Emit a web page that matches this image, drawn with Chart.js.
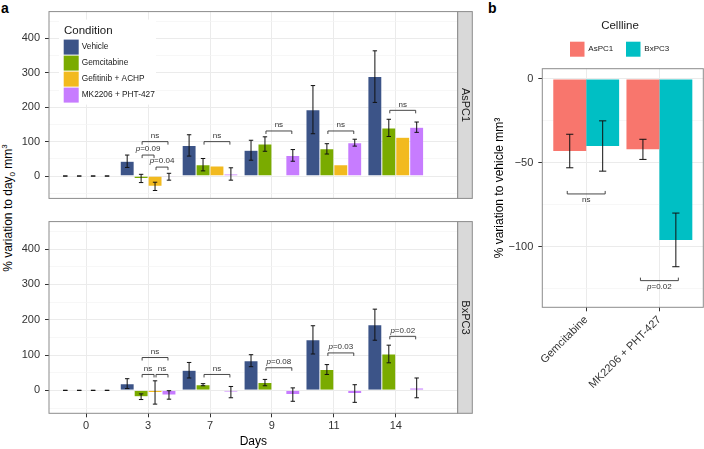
<!DOCTYPE html>
<html>
<head>
<meta charset="utf-8">
<script src="https://cdn.jsdelivr.net/npm/chart.js@4.4.1/dist/chart.umd.min.js"></script>
<style>
  body { margin: 0; width: 704px; height: 449px; position: relative; background: #fff; overflow: hidden;
         font-family: "Liberation Sans", Arial, sans-serif; }
  canvas { position: absolute; }
  .letter { position: absolute; font-weight: bold; font-size: 14px; color: #000; line-height: 1; }
  .ytitle { position: absolute; white-space: nowrap; font-size: 12px; line-height: 1; color: #000;
            transform: translate(-50%, -50%) rotate(-90deg); }
  .ytitle sub, .ytitle sup { font-size: 8px; line-height: 0; }
</style>
</head>
<body>
<div class="letter" style="left:1px;top:1px">a</div>
<div class="letter" style="left:488px;top:1px">b</div>
<div class="ytitle" style="left:8px;top:208px">% variation to day<sub>0</sub> mm<sup>3</sup></div>
<canvas id="facetTop" width="474" height="210" style="left:0;top:0"></canvas>
<canvas id="facetBottom" width="474" height="239" style="left:0;top:210px"></canvas>
<canvas id="panelB" width="232" height="449" style="left:472px;top:0"></canvas>
<script>
const FONT = '"Liberation Sans", Arial, sans-serif';

// panel a
const days = ['0', '3', '7', '9', '11', '14'];
const conditions = ['Vehicle', 'Gemcitabine', 'Gefitinib + ACHP', 'MK2206 + PHT-427'];
const conditionColors = ['#3C5488', '#7AAB00', '#F2BA1F', '#C77CFF'];

const aspc1Vehicle = [0, 43, 89, 75, 193, 289];
const aspc1VehicleErr = [0, 18, 31, 29, 70, 75];
const aspc1Gem = [0, -7, 33, 93, 79, 140];
const aspc1GemErr = [0, 12, 18, 21, 15, 25];
const aspc1Gef = [0, -30, 29, 1, 33, 113];
const aspc1GefErr = [0, 12, null, null, null, null];
const aspc1Mk = [0, -2, 6, 60, 97, 142];
const aspc1MkErr = [0, 10, 18, 17, 10, 15];

const bxpc3Vehicle = [0, 19, 57, 84, 143, 186];
const bxpc3VehicleErr = [0, 14, 22, 17, 40, 44];
const bxpc3Gem = [0, -18, 16, 22, 59, 103];
const bxpc3GemErr = [0, 8, 3, 9, 14, 25];
const bxpc3Gef = [0, -6, null, null, null, null];
const bxpc3GefErr = [0, 33, null, null, null, null];
const bxpc3Mk = [0, -13, -5, -12, -9, 7];
const bxpc3MkErr = [0, 12, 16, 19, 25, 28];

// [day index, from condition, to condition, height, label]
const aspc1Brackets = [
  [1, 1, 3, 100, 'ns'], [1, 1, 2, 61, 'p=0.09'], [1, 2, 3, 26, 'p=0.04'],
  [2, 1, 3, 100, 'ns'], [3, 1, 3, 131, 'ns'], [4, 1, 3, 131, 'ns'], [5, 1, 3, 191, 'ns']
];
const bxpc3Brackets = [
  [1, 1, 3, 93, 'ns'], [1, 1, 2, 45, 'ns'], [1, 2, 3, 45, 'ns'],
  [2, 1, 3, 45, 'ns'], [3, 1, 3, 64, 'p=0.08'], [4, 1, 3, 106, 'p=0.03'], [5, 1, 3, 153, 'p=0.02']
];
const facetTicks = [-50, 0, 50, 100, 150, 200, 250, 300, 350, 400, 450];

// panel b
const treatments = ['Gemcitabine', 'MK2206 + PHT-427'];
const cellLines = ['AsPC1', 'BxPC3'];
const cellColors = ['#F8766D', '#00BFC4'];
const aspc1Var = [-43, -42];
const aspc1VarErr = [10, 6];
const bxpc3Var = [-40, -96];
const bxpc3VarErr = [15, 16];
const varBrackets = [[0, 0, 1, -68.6, 'ns'], [1, 0, 1, -120.3, 'p=0.02']];
const varTicks = [-125, -100, -75, -50, -25, 0];

function drawLabel(ctx, label, cx, cy) {
  ctx.fillStyle = '#333';
  ctx.textBaseline = 'middle';
  ctx.textAlign = 'left';
  if (label.startsWith('p')) {
    ctx.font = 'italic 8px ' + FONT;
    const w1 = ctx.measureText('p').width;
    ctx.font = '8px ' + FONT;
    const rest = label.slice(1);
    const w2 = ctx.measureText(rest).width;
    const x0 = cx - (w1 + w2) / 2;
    ctx.font = 'italic 8px ' + FONT;
    ctx.fillText('p', x0, cy);
    ctx.font = '8px ' + FONT;
    ctx.fillText(rest, x0 + w1, cy);
  } else {
    ctx.font = '8px ' + FONT;
    ctx.textAlign = 'center';
    ctx.fillText(label, cx, cy);
  }
}

function errorBarPlugin(errors, halfCap) {
  return {
    id: 'errorBars',
    afterDatasetsDraw(chart) {
      const ctx = chart.ctx, y = chart.scales.y;
      ctx.save();
      ctx.strokeStyle = '#111';
      ctx.lineWidth = 1;
      chart.data.datasets.forEach((ds, i) => {
        chart.getDatasetMeta(i).data.forEach((bar, j) => {
          const v = ds.data[j].y, e = errors[i][j];
          if (v == null || e == null) return;
          const t = y.getPixelForValue(v + e), b = y.getPixelForValue(v - e);
          ctx.beginPath();
          ctx.moveTo(bar.x, t); ctx.lineTo(bar.x, b);
          ctx.moveTo(bar.x - halfCap, t); ctx.lineTo(bar.x + halfCap, t);
          ctx.moveTo(bar.x - halfCap, b); ctx.lineTo(bar.x + halfCap, b);
          ctx.stroke();
        });
      });
      ctx.restore();
    }
  };
}

// dir 1: legs down, label above; dir -1: legs up, label below
function bracketPlugin(brackets, dir, inset) {
  return {
    id: 'brackets',
    afterDatasetsDraw(chart) {
      const ctx = chart.ctx, y = chart.scales.y;
      ctx.save();
      ctx.strokeStyle = '#333';
      ctx.lineWidth = 0.9;
      brackets.forEach(([cat, from, to, h, label]) => {
        const x1 = chart.getDatasetMeta(from).data[cat].x + inset;
        const x2 = chart.getDatasetMeta(to).data[cat].x - inset;
        const yp = y.getPixelForValue(h);
        ctx.beginPath();
        ctx.moveTo(x1, yp + 3 * dir); ctx.lineTo(x1, yp);
        ctx.lineTo(x2, yp); ctx.lineTo(x2, yp + 3 * dir);
        ctx.stroke();
        drawLabel(ctx, label, (x1 + x2) / 2, yp - 6 * dir);
      });
      ctx.restore();
    }
  };
}

function facetPlugin(strip, withLegend) {
  return {
    id: 'facet',
    afterDraw(chart) {
      const ctx = chart.ctx, a = chart.chartArea;
      ctx.save();
      ctx.strokeStyle = '#8c8c8c';
      ctx.lineWidth = 1;
      ctx.strokeRect(a.left, a.top, a.right - a.left, a.bottom - a.top);
      ctx.fillStyle = '#d9d9d9';
      ctx.fillRect(a.right, a.top, 14.6, a.bottom - a.top);
      ctx.strokeRect(a.right, a.top, 14.6, a.bottom - a.top);
      ctx.fillStyle = '#1a1a1a';
      ctx.font = '11px ' + FONT;
      ctx.textAlign = 'center';
      ctx.textBaseline = 'middle';
      ctx.translate(a.right + 7.3, (a.top + a.bottom) / 2);
      ctx.rotate(Math.PI / 2);
      ctx.fillText(strip, 0, 0);
      ctx.restore();

      if (!withLegend) return;
      ctx.save();
      const lx = a.left + 10, ly = a.top + 8;
      ctx.fillStyle = '#fff';
      ctx.fillRect(lx, ly, 97, 85);
      ctx.fillStyle = '#1a1a1a';
      ctx.font = '11.5px ' + FONT;
      ctx.textBaseline = 'middle';
      ctx.fillText('Condition', lx + 5, ly + 11.7);
      conditions.forEach((c, i) => {
        const ky = ly + 20 + i * 16;
        ctx.fillStyle = conditionColors[i];
        ctx.fillRect(lx + 4.7, ky, 15, 15);
        ctx.fillStyle = '#1a1a1a';
        ctx.font = '8.3px ' + FONT;
        ctx.fillText(c, lx + 22.7, ky + 7.5);
      });
      ctx.restore();
    }
  };
}

function addFacet(id, strip, series, errors, brackets, bottom) {
  const ctx = document.getElementById(id);
  return new Chart(ctx, {
    type: 'bar',
    data: {
      datasets: series.map((vals, i) => ({
        label: conditions[i],
        data: vals.map((v, j) => ({ x: j, y: v })),
        backgroundColor: conditionColors[i],
        borderColor: 'rgba(255,255,255,0.35)',
        borderWidth: 0.5,
        categoryPercentage: 0.9,
        barPercentage: 1
      }))
    },
    options: {
      responsive: false,
      animation: false,
      events: [],
      layout: { padding: bottom ? { top: 2.7, right: 16.3, bottom: 0, left: 0 }
                                : { top: 7, right: 16.3, bottom: 3, left: 0 } },
      plugins: { legend: { display: false }, tooltip: { enabled: false } },
      scales: {
        x: {
          type: 'linear', min: -0.6, max: 6, bounds: 'data', offset: false,
          afterBuildTicks: s => { s.ticks = days.map((d, i) => ({ value: i })); },
          afterFit: s => { s.height = bottom ? 35.7 : 0; },
          ticks: { display: bottom, callback: v => days[v], color: '#333',
                   font: { family: FONT, size: 11 }, padding: 2, maxRotation: 0, autoSkip: false },
          grid: { offset: false, color: '#ebebeb', lineWidth: 1, drawTicks: bottom, tickLength: 4, tickColor: '#333' },
          border: { display: false },
          title: { display: bottom, text: 'Days', color: '#000', padding: 0,
                   font: { family: FONT, size: 12 } }
        },
        y: {
          min: -65, max: 478, bounds: 'data',
          afterBuildTicks: s => { s.ticks = facetTicks.map(v => ({ value: v })); },
          afterFit: s => { s.width = 49; },
          ticks: { callback: v => (v % 100 === 0 ? String(v) : ''), color: '#333',
                   font: { family: FONT, size: 11 }, padding: 5 },
          grid: {
            color: c => (c.tick && c.tick.value % 100 === 0 ? '#ebebeb' : '#f3f3f3'),
            lineWidth: c => (c.tick && c.tick.value % 100 === 0 ? 1 : 0.7),
            tickColor: c => (c.tick && c.tick.value % 100 === 0 ? '#333' : 'rgba(0,0,0,0)'),
            tickLength: 4
          },
          border: { display: false }
        }
      }
    },
    plugins: [errorBarPlugin(errors, 2.2), bracketPlugin(brackets, 1, 1), facetPlugin(strip, !bottom)]
  });
}

addFacet('facetTop', 'AsPC1', [aspc1Vehicle, aspc1Gem, aspc1Gef, aspc1Mk],
  [aspc1VehicleErr, aspc1GemErr, aspc1GefErr, aspc1MkErr], aspc1Brackets, false);
addFacet('facetBottom', 'BxPC3', [bxpc3Vehicle, bxpc3Gem, bxpc3Gef, bxpc3Mk],
  [bxpc3VehicleErr, bxpc3GemErr, bxpc3GefErr, bxpc3MkErr], bxpc3Brackets, true);

const legendB = {
  id: 'legendB',
  afterDraw(chart) {
    const ctx = chart.ctx, a = chart.chartArea;
    ctx.save();
    ctx.strokeStyle = '#8c8c8c';
    ctx.lineWidth = 1;
    ctx.strokeRect(a.left, a.top, a.right - a.left, a.bottom - a.top);
    ctx.fillStyle = '#1a1a1a';
    ctx.textBaseline = 'middle';
    ctx.textAlign = 'center';
    ctx.font = '11.5px ' + FONT;
    ctx.fillText('Cellline', a.left + 77.7, 26);
    ctx.textAlign = 'left';
    ctx.font = '8px ' + FONT;
    cellLines.forEach((c, i) => {
      const kx = a.left + 27.7 + i * 56;
      ctx.fillStyle = cellColors[i];
      ctx.fillRect(kx, 41.7, 14.5, 15);
      ctx.fillStyle = '#1a1a1a';
      ctx.fillText(c, kx + 18.3, 49.2);
    });
    ctx.restore();
  }
};

new Chart(document.getElementById('panelB'), {
  type: 'bar',
  data: {
    datasets: [aspc1Var, bxpc3Var].map((vals, i) => ({
      label: cellLines[i],
      data: vals.map((v, j) => ({ x: j, y: v })),
      backgroundColor: cellColors[i],
      borderWidth: 0,
      categoryPercentage: 0.9,
      barPercentage: 1
    }))
  },
  options: {
    responsive: false,
    animation: false,
    events: [],
    layout: { padding: { top: 68.7, right: 0.7, bottom: 0, left: 0 } },
    plugins: { legend: { display: false }, tooltip: { enabled: false } },
    scales: {
      x: {
        type: 'linear', min: -0.6, max: 1.6, bounds: 'data', offset: false,
        afterBuildTicks: s => { s.ticks = treatments.map((t, i) => ({ value: i })); },
        afterFit: s => { s.height = 141.7; },
        ticks: { callback: v => treatments[v], color: '#333', font: { family: FONT, size: 11 },
                 minRotation: 45, maxRotation: 45, padding: 2, autoSkip: false },
        grid: { offset: false, color: '#ebebeb', tickLength: 4, tickColor: '#333' },
        border: { display: false }
      },
      y: {
        min: -136.2, max: 6.1, bounds: 'data',
        afterBuildTicks: s => { s.ticks = varTicks.map(v => ({ value: v })); },
        afterFit: s => { s.width = 70.3; },
        ticks: { callback: v => (v % 50 === 0 ? (v < 0 ? '\u2212' + (-v) : String(v)) : ''),
                 color: '#333', font: { family: FONT, size: 11 }, padding: 5 },
        grid: {
          color: c => (c.tick && c.tick.value % 50 === 0 ? '#ebebeb' : '#f3f3f3'),
          lineWidth: c => (c.tick && c.tick.value % 50 === 0 ? 1 : 0.7),
          tickColor: c => (c.tick && c.tick.value % 50 === 0 ? '#333' : 'rgba(0,0,0,0)'),
          tickLength: 4
        },
        border: { display: false },
        title: { display: true, text: '% variation to vehicle mm\u00b3', color: '#000',
                 padding: { top: 20.8, bottom: 0 }, font: { family: FONT, size: 12 } }
      }
    }
  },
  plugins: [errorBarPlugin([aspc1VarErr, bxpc3VarErr], 3.6), bracketPlugin(varBrackets, -1, -2.5), legendB]
});
</script>
</body>
</html>
